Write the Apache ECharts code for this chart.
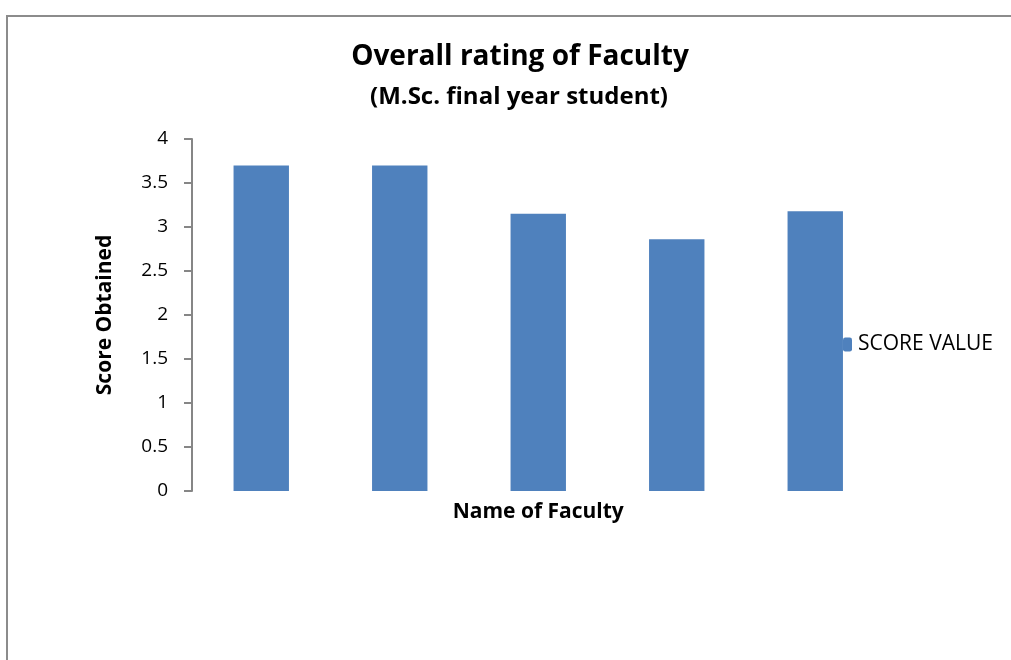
<!DOCTYPE html>
<html>
<head>
<meta charset="utf-8">
<script src="https://cdn.jsdelivr.net/npm/echarts@6/dist/echarts.min.js"></script>
<style>
  html, body { margin: 0; padding: 0; background: #fff; }
  #main { width: 1011px; height: 660px; }
</style>
</head>
<body>
<div id="main"></div>
<script>
// Overall rating of Faculty
var myChart = echarts.init(document.getElementById('main'));
var categories = ['F1', 'F2', 'F3', 'F4', 'F5'];
var scoreValues = [3.70, 3.70, 3.15, 2.86, 3.18];
var yTicks = [0, 0.5, 1, 1.5, 2, 2.5, 3, 3.5, 4];
var seriesName = 'SCORE VALUE';
var font = 'Open Sans';

var option = {
    backgroundColor: '#fff',
    animation: false,
    graphic: [{
        type: 'rect',
        shape: { x: 7, y: 16, width: 1100, height: 800 },
        style: { fill: 'none', stroke: '#8c8c8c', lineWidth: 2 }
    }],
    title: [
        { text: 'Overall rating of Faculty', left: 515, top: 38, textAlign: 'center',
          textStyle: { fontFamily: font, fontWeight: 'bold', fontSize: 28, color: '#000' } },
        { text: '(M.Sc. final year student)', left: 514, top: 80, textAlign: 'center',
          textStyle: { fontFamily: font, fontWeight: 'bold', fontSize: 24, color: '#000' } }
    ],
    legend: {
        show: true, data: [seriesName], left: 838, top: 329, orient: 'vertical',
        itemWidth: 9, itemHeight: 14, itemGap: 6,
        textStyle: { fontFamily: font, fontSize: 21, color: '#000', padding: [0, 0, 0, 1] }
    },
    grid: { left: 192, right: 126.5, top: 139, bottom: 169, containLabel: false },
    xAxis: {
        type: 'category',
        data: categories,
        name: 'Name of Faculty',
        nameLocation: 'middle',
        nameGap: 11,
        nameTextStyle: { fontFamily: font, fontWeight: 'bold', fontSize: 21, color: '#000' },
        axisLine: { show: false },
        axisTick: { show: false },
        axisLabel: { show: false }
    },
    yAxis: {
        type: 'value',
        min: yTicks[0],
        max: yTicks[yTicks.length - 1],
        interval: 0.5,
        name: 'Score Obtained',
        nameLocation: 'middle',
        nameGap: 76,
        nameTextStyle: { fontFamily: font, fontWeight: 'bold', fontSize: 21, color: '#000' },
        axisLine: { show: true, lineStyle: { color: '#868686', width: 2 } },
        axisTick: { show: true, inside: false, length: 8, lineStyle: { color: '#868686', width: 2 } },
        axisLabel: { margin: 24, fontFamily: font, fontSize: 19, color: '#000' },
        splitLine: { show: false }
    },
    series: [{
        name: seriesName,
        type: 'bar',
        data: scoreValues,
        barCategoryGap: '60%',
        itemStyle: { color: '#4F81BD' }
    }]
};

myChart.setOption(option);
</script>
</body>
</html>
